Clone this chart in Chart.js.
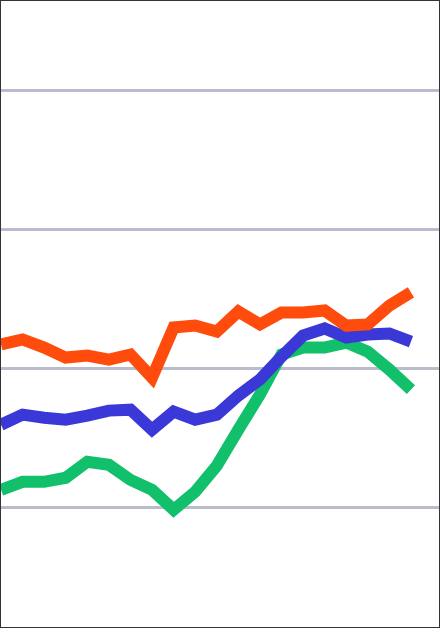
<!DOCTYPE html>
<html><head><meta charset="utf-8">
<script src="https://cdn.jsdelivr.net/npm/chart.js@4"></script>
<style>html,body{margin:0;padding:0;background:#fff}#w{position:absolute;left:0;top:0;width:438px;height:626px;border:1px solid #333}</style>
</head><body><div id="w"><canvas id="c"></canvas></div>
<script>
const xIndex=[0,1,2,3,4,5,6,7,8,9,10,11,12,13,14,15,16,17,18,19];
const orange=[11.73,12.09,11.51,10.79,10.94,10.65,11.01,9.35,12.95,13.09,12.66,14.10,13.17,14.03,14.03,14.17,13.09,13.17,14.53,15.47];
const blue=[5.97,6.69,6.47,6.33,6.62,6.98,7.05,5.61,6.91,6.33,6.69,8.06,9.21,10.86,12.37,12.88,12.23,12.45,12.52,11.94];
const green=[1.29,1.87,1.87,2.16,3.31,3.09,2.01,1.29,-0.14,1.15,3.02,5.61,8.13,11.01,11.51,11.51,11.87,11.22,9.93,8.49];
const gridValues=[0,10,20,30];
const pts=a=>a.map((v,i)=>({x:xIndex[i],y:v}));
const ds=(d,c)=>({data:pts(d),borderColor:c,borderWidth:12,pointRadius:0,tension:0,fill:false,borderJoinStyle:'miter'});
new Chart(document.getElementById('c'),{type:'line',
data:{datasets:[ds(orange,'#ff4b0c'),ds(blue,'#3b38d8'),ds(green,'#12c06c')]},
options:{responsive:true,maintainAspectRatio:false,animation:false,
layout:{padding:0},
plugins:{legend:{display:false},tooltip:{enabled:false}},
scales:{
x:{type:'linear',min:0,max:20.3,display:false},
y:{min:-8.56,max:36.4,border:{display:false},ticks:{display:false},
 afterBuildTicks:s=>{s.ticks=gridValues.map(v=>({value:v}));},
 grid:{color:'#b9bccb',lineWidth:3,drawTicks:false}}
}}});
</script></body></html>
